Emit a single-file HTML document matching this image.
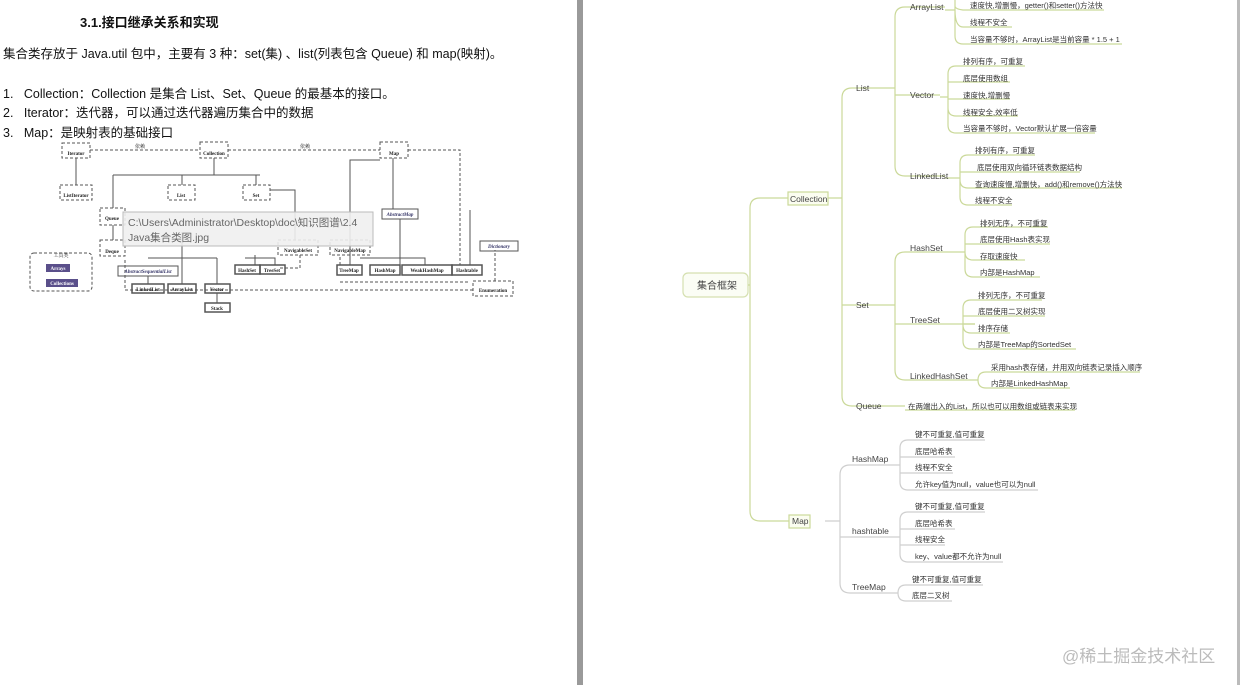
<!DOCTYPE html>
<html><head><meta charset="utf-8"><style>
body{margin:0;width:1240px;height:685px;background:#fff;overflow:hidden;position:relative;font-family:"Liberation Sans","Noto Sans CJK SC",sans-serif;}
.t{position:absolute;white-space:nowrap;color:#111;}
svg{position:absolute;left:0;top:0}
</style></head><body>
<div class="t" style="left:80px;top:12px;font-size:13px;font-weight:bold">3.1.接口继承关系和实现</div>
<div class="t" style="left:3px;top:43px;font-size:12.5px">集合类存放于 Java.util 包中，主要有 3 种：set(集) 、list(列表包含 Queue) 和 map(映射)。</div>
<div class="t" style="left:3px;top:83px;font-size:12.5px">1.&nbsp;&nbsp;&nbsp;Collection：Collection 是集合 List、Set、Queue 的最基本的接口。</div>
<div class="t" style="left:3px;top:102px;font-size:12.5px">2.&nbsp;&nbsp;&nbsp;Iterator：迭代器，可以通过迭代器遍历集合中的数据</div>
<div class="t" style="left:3px;top:122px;font-size:12.5px">3.&nbsp;&nbsp;&nbsp;Map：是映射表的基础接口</div>

<svg width="1240" height="685" font-family="Liberation Serif,Noto Serif CJK SC,serif">
<rect x="577" y="0" width="6" height="685" fill="#9a9a9a"/>
<rect x="1237" y="0" width="3" height="685" fill="#bbb"/>
<!-- left class diagram -->
<g stroke="#555" fill="none" stroke-width="1">
<g stroke-dasharray="3,2">
<rect x="62" y="143" width="28" height="15"/><rect x="200" y="142" width="28" height="16"/><rect x="380" y="142" width="28" height="16"/>
<rect x="60" y="185" width="32" height="15"/><rect x="168" y="185" width="27" height="15"/><rect x="243" y="185" width="27" height="15"/>
<rect x="100" y="208" width="25" height="17"/><rect x="100" y="240" width="25" height="16"/>
<rect x="30" y="253" width="62" height="38" rx="4"/>
<rect x="278" y="240" width="40" height="15"/><rect x="330" y="240" width="40" height="15"/>
<rect x="473" y="281" width="40" height="15"/>
<path d="M90,150 H200 M228,150 H380 M408,150 H460 V265 M125,260 V290 H473 M495,281 V250 M340,282 H470"/>
<path d="M280,268 H300 V255 M340,265 V255"/>
</g>
<rect x="118" y="266" width="60" height="10"/><rect x="382" y="209" width="36" height="10"/><rect x="480" y="241" width="38" height="10"/>
<rect x="132" y="284" width="32" height="9" stroke-width="1.5"/><rect x="168" y="284" width="28" height="9" stroke-width="1.5"/><rect x="205" y="284" width="25" height="9" stroke-width="1.5"/><rect x="205" y="303" width="25" height="9" stroke-width="1.5"/>
<rect x="235" y="265" width="25" height="9" stroke-width="1.5"/><rect x="260" y="265" width="25" height="9" stroke-width="1.5"/>
<rect x="337" y="265" width="25" height="10" stroke-width="1.5"/><rect x="370" y="265" width="30" height="10" stroke-width="1.5"/><rect x="402" y="265" width="50" height="10" stroke-width="1.5"/><rect x="452" y="265" width="30" height="10" stroke-width="1.5"/>
<path d="M76,158 V185 M214,158 V175 M113,175 H260 M113,175 V208 M182,175 V185 M256,175 V185 M113,225 V240 M148,276 V284 M182,232 V284 M217,258 V284 M217,293 V303 M148,258 H217 M255,255 V265 M245,258 H275 V265 M270,190 H295 V240 M350,265 V160 H380 M393,158 V209 M400,219 V265 M385,258 H425 V265 M470,265 V210 M360,258 H400"/>
</g>
<rect x="46" y="264" width="24" height="8" fill="#5a4f8a"/><rect x="46" y="279" width="32" height="8" fill="#5a4f8a"/>
<g font-size="5" fill="#222" text-anchor="middle" font-weight="bold">
<text x="76" y="155">Iterator</text><text x="214" y="155">Collection</text><text x="394" y="155">Map</text>
<text x="76" y="197">ListIterator</text><text x="181" y="197">List</text><text x="256" y="197">Set</text>
<text x="112" y="220">Queue</text><text x="112" y="253">Deque</text>
<text x="148" y="291">LinkedList</text><text x="182" y="291">ArrayList</text><text x="217" y="291">Vector</text><text x="217" y="310">Stack</text>
<text x="247" y="272">HashSet</text><text x="272" y="272">TreeSet</text><text x="298" y="252">NavigableSet</text><text x="350" y="252">NavigableMap</text>
<text x="349" y="272">TreeMap</text><text x="385" y="272">HashMap</text><text x="427" y="272">WeakHashMap</text><text x="467" y="272">Hashtable</text>
<text x="493" y="292">Enumeration</text><text x="58" y="270" fill="#fff">Arrays</text><text x="62" y="285" fill="#fff">Collections</text>
<text x="148" y="273" font-style="italic" fill="#336">AbstractSequentialList</text><text x="400" y="216" font-style="italic" fill="#336">AbstractMap</text><text x="499" y="248" font-style="italic" fill="#336">Dictionary</text>
<text x="61" y="257" font-weight="normal">工具类</text><text x="140" y="148" font-weight="normal">依赖</text><text x="305" y="148" font-weight="normal">依赖</text>
</g>
<rect x="123" y="212" width="250" height="34" fill="#f0f0f0" fill-opacity="0.9" stroke="#bbb"/>
<text x="128" y="226" font-size="10.5" fill="#666" font-family="Liberation Sans,Noto Sans CJK SC,sans-serif">C:\Users\Administrator\Desktop\doc\知识图谱\2.4</text>
<text x="128" y="241" font-size="10.5" fill="#666" font-family="Liberation Sans,Noto Sans CJK SC,sans-serif">Java集合类图.jpg</text>

<!-- mind map -->
<g fill="none" stroke="#cbd99a" stroke-width="1.2">
<rect x="683" y="273" width="65" height="24" rx="5" fill="#fbfdf5" stroke="#d5e0b0"/>
<rect x="788" y="192" width="40" height="13" fill="#fbfdf0"/>
<rect x="789" y="515" width="21" height="13" fill="#fbfdf0"/>
<path d="M748,285 H750 M760,198 Q750,198 750,208 V511 Q750,521 760,521 H789 M760,198 H788"/>
<path d="M828,198 H842 M852,88 Q842,88 842,98 V396 Q842,406 852,406 H905 M842,305 H880 M842,98 Q842,88 852,88 H880"/>
<path d="M880,88 H895 M905,7 Q895,7 895,17 V166 Q895,176 905,176 H945 M895,95 H940 M895,17 Q895,7 905,7 H945"/>
<path d="M945,10 H955 M955,-10 V36 Q955,44 963,44 H1122 M955,10 Q955,27 963,27 H1012 M955,6 Q955,9 963,10 H1104"/>
<path d="M940,97 H948 M956,66 Q948,66 948,74 V125 Q948,133 956,133 H1095 M948,82 Q948,82 956,82 H1010 M948,99 H1010 M948,108 Q948,116 956,116 H1018 M948,74 Q948,66 956,66 H1025"/>
<path d="M945,178 H960 M968,155 Q960,155 960,163 V197 Q960,205 968,205 H1012 M960,172 H1080 M960,180 Q960,188 968,188 H1122 M960,163 Q960,155 968,155 H1035"/>
<path d="M880,305 H895 M905,252 Q895,252 895,262 V370 Q895,380 905,380 H978 M895,324 H975 M895,262 Q895,252 905,252 H965"/>
<path d="M965,252 H965 M973,227 Q965,227 965,235 V269 Q965,277 973,277 H1040 M965,244 H1050 M965,252 Q965,260 973,260 H1025 M965,235 Q965,227 973,227 H1048"/>
<path d="M975,324 H963 M971,300 Q963,300 963,308 V341 Q963,349 971,349 H1076 M963,316 H1045 M963,325 Q963,333 971,333 H1010 M963,308 Q963,300 971,300 H1042"/>
<path d="M978,380 H978 M986,372 Q978,372 978,380 Q978,388 986,388 H1070 M986,372 H1140"/>
<path d="M905,410 H1075"/>
</g>
<g fill="none" stroke="#cfcfcf" stroke-width="1.2">
<path d="M825,521 H840 M850,465 Q840,465 840,475 V583 Q840,593 850,593 H898 M840,537 H900 M840,475 Q840,465 850,465 H900"/>
<path d="M908,440 Q900,440 900,448 V482 Q900,490 908,490 H1038 M900,448 Q900,440 908,440 H985 M900,457 H955 M900,473 H953"/>
<path d="M908,512 Q900,512 900,520 V554 Q900,562 908,562 H1003 M900,520 Q900,512 908,512 H985 M900,529 H955 M900,545 H945"/>
<path d="M906,585 Q898,585 898,593 Q898,601 906,601 H952 M906,585 H983"/>
</g>
<g font-family="Liberation Sans,Noto Sans CJK SC,sans-serif" fill="#444">
<text x="697" y="289" font-size="10">集合框架</text>
<text x="790" y="202" font-size="8.5">Collection</text><text x="792" y="524" font-size="8.5">Map</text>
<g font-size="8.5">
<text x="856" y="91">List</text><text x="856" y="308">Set</text><text x="856" y="409">Queue</text>
<text x="910" y="10">ArrayList</text><text x="910" y="98">Vector</text><text x="910" y="179">LinkedList</text>
<text x="910" y="251">HashSet</text><text x="910" y="323">TreeSet</text><text x="910" y="379">LinkedHashSet</text>
<text x="852" y="462">HashMap</text><text x="852" y="534">hashtable</text><text x="852" y="590">TreeMap</text>
</g>
<g font-size="7.5" fill="#333">
<text x="970" y="8">速度快,增删慢，getter()和setter()方法快</text><text x="970" y="25">线程不安全</text><text x="970" y="42">当容量不够时，ArrayList是当前容量 * 1.5 + 1</text>
<text x="963" y="64">排列有序，可重复</text><text x="963" y="81">底层使用数组</text><text x="963" y="98">速度快,增删慢</text><text x="963" y="115">线程安全,效率低</text><text x="963" y="131">当容量不够时，Vector默认扩展一倍容量</text>
<text x="975" y="153">排列有序，可重复</text><text x="977" y="170">底层使用双向循环链表数据结构</text><text x="975" y="187">查询速度慢,增删快，add()和remove()方法快</text><text x="975" y="203">线程不安全</text>
<text x="980" y="226">排列无序，不可重复</text><text x="980" y="242">底层使用Hash表实现</text><text x="980" y="259">存取速度快</text><text x="980" y="275">内部是HashMap</text>
<text x="978" y="298">排列无序，不可重复</text><text x="978" y="314">底层使用二叉树实现</text><text x="978" y="331">排序存储</text><text x="978" y="347">内部是TreeMap的SortedSet</text>
<text x="991" y="370">采用hash表存储，并用双向链表记录插入顺序</text><text x="991" y="386">内部是LinkedHashMap</text>
<text x="908" y="409">在两端出入的List，所以也可以用数组或链表来实现</text>
<text x="915" y="437">键不可重复,值可重复</text><text x="915" y="454">底层哈希表</text><text x="915" y="470">线程不安全</text><text x="915" y="487">允许key值为null，value也可以为null</text>
<text x="915" y="509">键不可重复,值可重复</text><text x="915" y="526">底层哈希表</text><text x="915" y="542">线程安全</text><text x="915" y="559">key、value都不允许为null</text>
<text x="912" y="582">键不可重复,值可重复</text><text x="912" y="598">底层二叉树</text>
</g>
<text x="1062" y="662" font-size="17" fill="#bbb">@稀土掘金技术社区</text>
</g>
</svg>
</body></html>
